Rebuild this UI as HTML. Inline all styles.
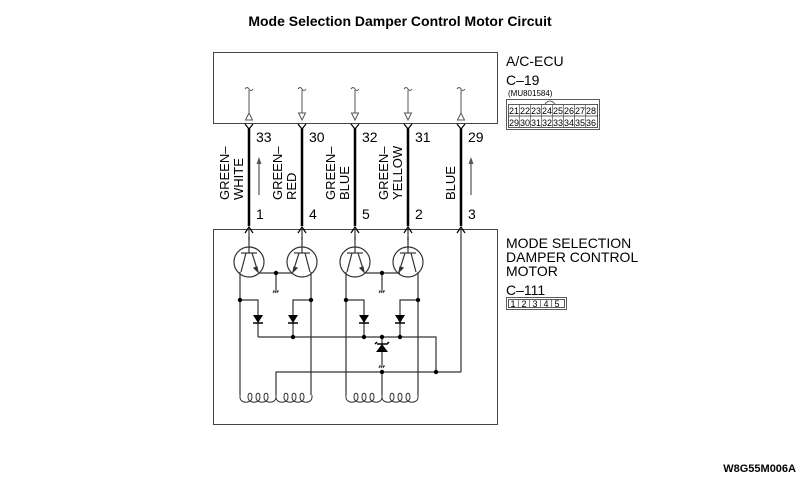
<!DOCTYPE html>
<html><head><meta charset="utf-8"><style>
body{margin:0;background:#fff}
svg{display:block}
text{font-family:"Liberation Sans",sans-serif;fill:#000}
</style></head><body>
<svg width="800" height="479" viewBox="0 0 800 479" xmlns="http://www.w3.org/2000/svg">
<defs>
<g id="trL" fill="none" stroke="#333" stroke-width="1.2">
<circle cx="0" cy="0" r="15"/>
<line x1="-8" y1="-9" x2="8" y2="-9"/>
<line x1="0" y1="-9" x2="0" y2="-25"/>
<line x1="-3" y1="-9" x2="-8" y2="10"/>
<line x1="3" y1="-9" x2="9" y2="10"/>
<polygon points="9,10 5,6 8,5" fill="#333"/>
</g>
<g id="diode"><polygon points="-5,-4 5,-4 0,4" fill="#000"/><line x1="-5" y1="4" x2="5" y2="4" stroke="#000" stroke-width="1.5"/></g>
<g id="gnd" stroke="#333" stroke-width="1"><line x1="-3" y1="0" x2="3" y2="0"/><line x1="-2" y1="0" x2="-3" y2="2"/><line x1="0" y1="0" x2="-1" y2="2"/><line x1="2" y1="0" x2="1" y2="2"/></g>
<path id="coil" d="M0,0 V2 c0,7 12,7 12,0 c0,-5 -4,-5 -4,0 c0,7 12,7 12,0 c0,-5 -4,-5 -4,0 c0,7 12,7 12,0 c0,-5 -4,-5 -4,0 c0,7 12,7 12,0 V0" fill="none" stroke="#333" stroke-width="1"/>
</defs>
<text x="400" y="26" text-anchor="middle" font-weight="bold" font-size="14">Mode Selection Damper Control Motor Circuit</text>
<rect x="213.5" y="52.5" width="284" height="71" fill="none" stroke="#444" stroke-width="1"/>
<rect x="213.5" y="229.5" width="284" height="195" fill="none" stroke="#444" stroke-width="1"/>
<g fill="none" stroke="#555" stroke-width="1">
<path d="M245,89 q2,-3 4,0 q2,3 4,0 M249,90 V113"/><polygon points="245.5,120 252.5,120 249,113"/>
<path d="M298,89 q2,-3 4,0 q2,3 4,0 M302,90 V113"/><polygon points="298.5,113 305.5,113 302,120"/>
<path d="M351,89 q2,-3 4,0 q2,3 4,0 M355,90 V113"/><polygon points="351.5,113 358.5,113 355,120"/>
<path d="M404,89 q2,-3 4,0 q2,3 4,0 M408,90 V113"/><polygon points="404.5,113 411.5,113 408,120"/>
<path d="M457,89 q2,-3 4,0 q2,3 4,0 M461,90 V113"/><polygon points="457.5,120 464.5,120 461,113"/>
</g>
<g stroke="#000" stroke-width="2.5">
<line x1="249" y1="128" x2="249" y2="226"/><line x1="302" y1="128" x2="302" y2="226"/>
<line x1="355" y1="128" x2="355" y2="226"/><line x1="408" y1="128" x2="408" y2="226"/>
<line x1="461" y1="128" x2="461" y2="226"/>
</g>
<g stroke="#000" stroke-width="1.2" fill="none">
<path d="M245,124 L249,129 L253,124 M298,124 L302,129 L306,124 M351,124 L355,129 L359,124 M404,124 L408,129 L412,124 M457,124 L461,129 L465,124"/>
<path d="M245,233 L249,227 L253,233 M298,233 L302,227 L306,233 M351,233 L355,227 L359,233 M404,233 L408,227 L412,233 M457,233 L461,227 L465,233"/>
<line x1="259" y1="195" x2="259" y2="162" stroke="#555"/><line x1="471" y1="195" x2="471" y2="162" stroke="#555"/>
</g>
<polygon points="256.5,164 261.5,164 259,157" fill="#555"/><polygon points="468.5,164 473.5,164 471,157" fill="#555"/>
<g font-size="14">
<text x="256" y="142">33</text><text x="309" y="142">30</text><text x="362" y="142">32</text><text x="415" y="142">31</text><text x="468" y="142">29</text>
<text x="256" y="219">1</text><text x="309" y="219">4</text><text x="362" y="219">5</text><text x="415" y="219">2</text><text x="468" y="219">3</text>
</g>
<g font-size="13">
<text transform="translate(229,200) rotate(-90)">GREEN–</text><text transform="translate(243,200) rotate(-90)">WHITE</text>
<text transform="translate(282,200) rotate(-90)">GREEN–</text><text transform="translate(296,200) rotate(-90)">RED</text>
<text transform="translate(335,200) rotate(-90)">GREEN–</text><text transform="translate(349,200) rotate(-90)">BLUE</text>
<text transform="translate(388,200) rotate(-90)">GREEN–</text><text transform="translate(402,200) rotate(-90)">YELLOW</text>
<text transform="translate(455,200) rotate(-90)">BLUE</text>
</g>
<g stroke="#333" stroke-width="1.2" fill="none">
<line x1="249" y1="229" x2="249" y2="240"/><line x1="302" y1="229" x2="302" y2="240"/>
<line x1="355" y1="229" x2="355" y2="240"/><line x1="408" y1="229" x2="408" y2="240"/>
<line x1="461" y1="229" x2="461" y2="372"/>
<path d="M240,272 V395 M311,272 V395 M258,273 H293 M276,273 V290"/>
<path d="M240,300 H258 V337 M311,300 H293 V337 M258,337 H436 V372"/>
<path d="M346,272 V395 M418,272 V395 M364,273 H400 M382,273 V290"/>
<path d="M346,300 H364 V337 M418,300 H400 V337 M382,337 V365"/>
<path d="M276,395 V372 H461 M382,372 V395"/>
</g>
<use href="#trL" x="249" y="262"/><use href="#trL" transform="translate(302,262) scale(-1,1)"/>
<use href="#trL" x="355" y="262"/><use href="#trL" transform="translate(408,262) scale(-1,1)"/>
<use href="#gnd" x="276" y="291"/><use href="#gnd" x="382" y="291"/><use href="#gnd" x="382" y="366"/>
<use href="#diode" x="258" y="319"/><use href="#diode" x="293" y="319"/>
<use href="#diode" x="364" y="319"/><use href="#diode" x="400" y="319"/>
<g><polygon points="376,352 388,352 382,344" fill="#000"/><path d="M375,344 L377,342 M377,344 H387 L389,342" stroke="#000" stroke-width="1.5" fill="none"/></g>
<g fill="#000">
<circle cx="276" cy="273" r="2.2"/><circle cx="382" cy="273" r="2.2"/>
<circle cx="240" cy="300" r="2.2"/><circle cx="311" cy="300" r="2.2"/><circle cx="346" cy="300" r="2.2"/><circle cx="418" cy="300" r="2.2"/>
<circle cx="293" cy="337" r="2.2"/><circle cx="364" cy="337" r="2.2"/><circle cx="382" cy="337" r="2.2"/><circle cx="400" cy="337" r="2.2"/>
<circle cx="382" cy="372" r="2.2"/><circle cx="436" cy="372" r="2.2"/>
</g>
<use href="#coil" x="240" y="395"/><use href="#coil" x="276" y="395"/>
<use href="#coil" x="346" y="395"/><use href="#coil" x="382" y="395"/>
<g font-size="14">
<text x="506" y="66">A/C-ECU</text><text x="506" y="85">C–19</text>
<text x="506" y="248">MODE SELECTION</text><text x="506" y="262">DAMPER CONTROL</text><text x="506" y="276">MOTOR</text>
<text x="506" y="295">C–111</text>
</g>
<text x="508" y="96" font-size="8">(MU801584)</text>
<g fill="none" stroke="#333" stroke-width="0.8">
<rect x="506.5" y="99.5" width="93" height="30"/>
<rect x="508.5" y="104.5" width="89" height="23"/>
<line x1="508" y1="116" x2="598" y2="116"/>
<path d="M545,104 q5,-6 10,0"/>
<rect x="506.5" y="297.5" width="60" height="12"/><rect x="508.5" y="299.5" width="56" height="8"/>
</g>
<g font-size="9" text-anchor="middle">
<text x="514" y="114">21</text><text x="525" y="114">22</text><text x="536" y="114">23</text><text x="547" y="114">24</text><text x="558" y="114">25</text><text x="569" y="114">26</text><text x="580" y="114">27</text><text x="591" y="114">28</text>
<text x="514" y="126">29</text><text x="525" y="126">30</text><text x="536" y="126">31</text><text x="547" y="126">32</text><text x="558" y="126">33</text><text x="569" y="126">34</text><text x="580" y="126">35</text><text x="591" y="126">36</text>
<text x="513" y="307">1</text><text x="524" y="307">2</text><text x="535" y="307">3</text><text x="546" y="307">4</text><text x="557" y="307">5</text>
</g>
<g stroke="#333" stroke-width="0.6">
<line x1="519.5" y1="105" x2="519.5" y2="127"/><line x1="530.5" y1="105" x2="530.5" y2="127"/><line x1="541.5" y1="105" x2="541.5" y2="127"/><line x1="552.5" y1="105" x2="552.5" y2="127"/><line x1="563.5" y1="105" x2="563.5" y2="127"/><line x1="574.5" y1="105" x2="574.5" y2="127"/><line x1="585.5" y1="105" x2="585.5" y2="127"/>
<line x1="518.5" y1="300" x2="518.5" y2="307"/><line x1="529.5" y1="300" x2="529.5" y2="307"/><line x1="540.5" y1="300" x2="540.5" y2="307"/><line x1="551.5" y1="300" x2="551.5" y2="307"/>
</g>
<text x="796" y="472" font-size="11" font-weight="bold" text-anchor="end">W8G55M006A</text>
</svg>
</body></html>
